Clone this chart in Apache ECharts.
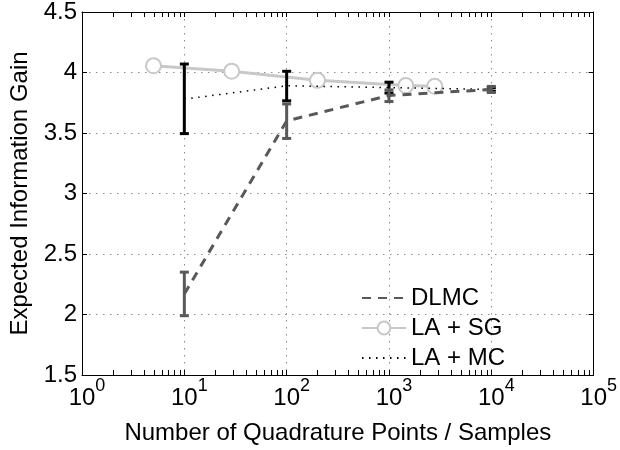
<!DOCTYPE html>
<html>
<head>
<meta charset="utf-8">
<script src="https://cdn.jsdelivr.net/npm/echarts@6/dist/echarts.min.js"></script>
<style>html,body{margin:0;padding:0;background:#fff;}#c{width:620px;height:450px;}</style>
</head>
<body>
<div id="c"></div>
<script>
// ---- data ----
const xPoints = [10, 100, 1000, 10000];
const dlmcMean = [2.17, 3.60, 3.81, 3.86];
const dlmcLow  = [1.99, 3.455, 3.76, 3.835];
const dlmcHigh = [2.35, 3.74, 3.856, 3.885];
const mcMean = [3.78, 3.89, 3.875, 3.86];
const mcLow  = [3.495, 3.766, 3.83, 3.845];
const mcHigh = [4.07, 4.01, 3.92, 3.875];
const sgX = [5, 29, 200, 1460, 2800];
const sgY = [4.055, 4.01, 3.935, 3.892, 3.886];
const minorTicks = [2,3,4,5,6,7,8,9,20,30,40,50,60,70,80,90,200,300,400,500,600,700,800,900,
  2000,3000,4000,5000,6000,7000,8000,9000,20000,30000,40000,50000,60000,70000,80000,90000];
const yMin = 1.5, yMax = 4.5, yStep = 0.5;
const seriesNames = ['DLMC', 'LA + SG', 'LA + MC'];

const FONT = "'Liberation Sans', Arial, sans-serif";
const zip = (a, b) => a.map((v, i) => [v, b[i]]);
const errData = (lo, hi) => xPoints.map((x, i) => [x, lo[i], hi[i]]);

function errRender(color) {
  return function (params, api) {
    const x = api.value(0);
    const p1 = api.coord([x, api.value(1)]);
    const p2 = api.coord([x, api.value(2)]);
    const hw = 4.5;
    const st = { stroke: color, lineWidth: 3, lineCap: 'butt' };
    return { type: 'group', children: [
      { type: 'line', shape: { x1: p1[0], y1: p1[1], x2: p2[0], y2: p2[1] }, style: st },
      { type: 'line', shape: { x1: p1[0]-hw, y1: p1[1], x2: p1[0]+hw, y2: p1[1] }, style: st },
      { type: 'line', shape: { x1: p2[0]-hw, y1: p2[1], x2: p2[0]+hw, y2: p2[1] }, style: st }
    ]};
  };
}

const chart = echarts.init(document.getElementById('c'), null, { renderer: 'canvas' });
chart.setOption({
  animation: false,
  backgroundColor: '#fff',
  grid: { left: 82, right: 20, top: 11, bottom: 71, containLabel: false },
  legend: {
    data: [
      { name: seriesNames[0], itemStyle: { opacity: 0 } },
      { name: seriesNames[1] },
      { name: seriesNames[2], itemStyle: { opacity: 0 } }
    ],
    orient: 'vertical',
    left: 356, top: 281,
    itemWidth: 44, itemHeight: 16, itemGap: 6,
    textStyle: { fontFamily: FONT, fontSize: 24, color: '#000', lineHeight: 24 },
    backgroundColor: 'transparent'
  },
  xAxis: [{
    type: 'log', logBase: 10, min: 1, max: 100000, position: 'bottom',
    name: 'Number of Quadrature Points / Samples', nameLocation: 'middle', nameGap: 46,
    nameTextStyle: { fontFamily: FONT, fontSize: 24, color: '#000' },
    axisLine: { show: true, lineStyle: { color: '#000', width: 1 } },
    axisTick: { show: true, inside: true, length: 5, lineStyle: { color: '#000' } },
    axisLabel: {
      margin: 2,
      formatter: function (v) {
        const e = Math.round(Math.log10(v));
        return '{sp|' + e + '}{b|10}{e|' + e + '}';
      },
      rich: {
        sp: { fontFamily: FONT, fontSize: 18, color: 'transparent', verticalAlign: 'top', lineHeight: 18 },
        b: { fontFamily: FONT, fontSize: 24, color: '#000', lineHeight: 33, verticalAlign: 'bottom' },
        e: { fontFamily: FONT, fontSize: 18, color: '#000', verticalAlign: 'top', lineHeight: 18 }
      }
    },
    splitLine: { show: true, lineStyle: { color: '#8c8c8c', width: 1, type: [1.5, 5.5] } }
  }, {
    type: 'log', logBase: 10, min: 1, max: 100000, position: 'top',
    axisLine: { show: true, lineStyle: { color: '#000', width: 1 } },
    axisTick: { show: true, inside: true, length: 5, lineStyle: { color: '#000' } },
    axisLabel: { show: false }, splitLine: { show: false }
  }],
  yAxis: [{
    type: 'value', min: yMin, max: yMax, interval: yStep, position: 'left',
    name: 'Expected Information Gain', nameLocation: 'middle', nameGap: 45,
    nameTextStyle: { fontFamily: FONT, fontSize: 24, color: '#000' },
    axisLine: { show: true, lineStyle: { color: '#000', width: 1 } },
    axisTick: { show: true, inside: true, length: 5, lineStyle: { color: '#000' } },
    axisLabel: { margin: 5, fontFamily: FONT, fontSize: 24, color: '#000' },
    splitLine: { show: true, lineStyle: { color: '#8c8c8c', width: 1, type: [1.5, 5.5] } }
  }, {
    type: 'value', min: yMin, max: yMax, interval: yStep, position: 'right',
    axisLine: { show: true, lineStyle: { color: '#000', width: 1 } },
    axisTick: { show: true, inside: true, length: 5, lineStyle: { color: '#000' } },
    axisLabel: { show: false }, splitLine: { show: false }
  }],
  series: [
    {
      name: 'minor ticks', type: 'custom', silent: true, clip: false, z: 1,
      data: minorTicks.map(v => [v, yMin]),
      encode: { x: 0, y: 1 },
      renderItem: function (params, api) {
        const x = api.value(0);
        const pb = api.coord([x, yMin]);
        const pt = api.coord([x, yMax]);
        const st = { stroke: '#000', lineWidth: 1 };
        const xx = Math.round(pb[0]) + 0.5;
        return { type: 'group', children: [
          { type: 'line', shape: { x1: xx, y1: pb[1], x2: xx, y2: pb[1]-5 }, style: st },
          { type: 'line', shape: { x1: xx, y1: pt[1], x2: xx, y2: pt[1]+5 }, style: st }
        ]};
      }
    },
    {
      name: 'LA + SG', type: 'line', data: zip(sgX, sgY), z: 2,
      symbol: 'emptyCircle', symbolSize: 15,
      lineStyle: { color: '#c8c8c8', width: 3 },
      itemStyle: { color: '#c8c8c8', borderColor: '#c8c8c8', borderWidth: 2.5 }
    },
    {
      name: 'LA + MC', type: 'line', data: zip(xPoints, mcMean), z: 3,
      symbol: 'none',
      lineStyle: { color: '#000', width: 1.5, type: [1.5, 5.5] },
      itemStyle: { color: '#000' }
    },
    {
      name: 'MC err', type: 'custom', z: 4,
      data: errData(mcLow, mcHigh), encode: { x: 0, y: [1, 2] },
      renderItem: errRender('#000')
    },
    {
      name: 'DLMC', type: 'line', data: zip(xPoints, dlmcMean), z: 5,
      symbol: 'none',
      lineStyle: { color: '#595959', width: 3, type: [9, 7] },
      itemStyle: { color: '#595959' }
    },
    {
      name: 'DLMC err', type: 'custom', z: 6,
      data: errData(dlmcLow, dlmcHigh), encode: { x: 0, y: [1, 2] },
      renderItem: errRender('#595959')
    }
  ]
});
</script>
</body>
</html>
